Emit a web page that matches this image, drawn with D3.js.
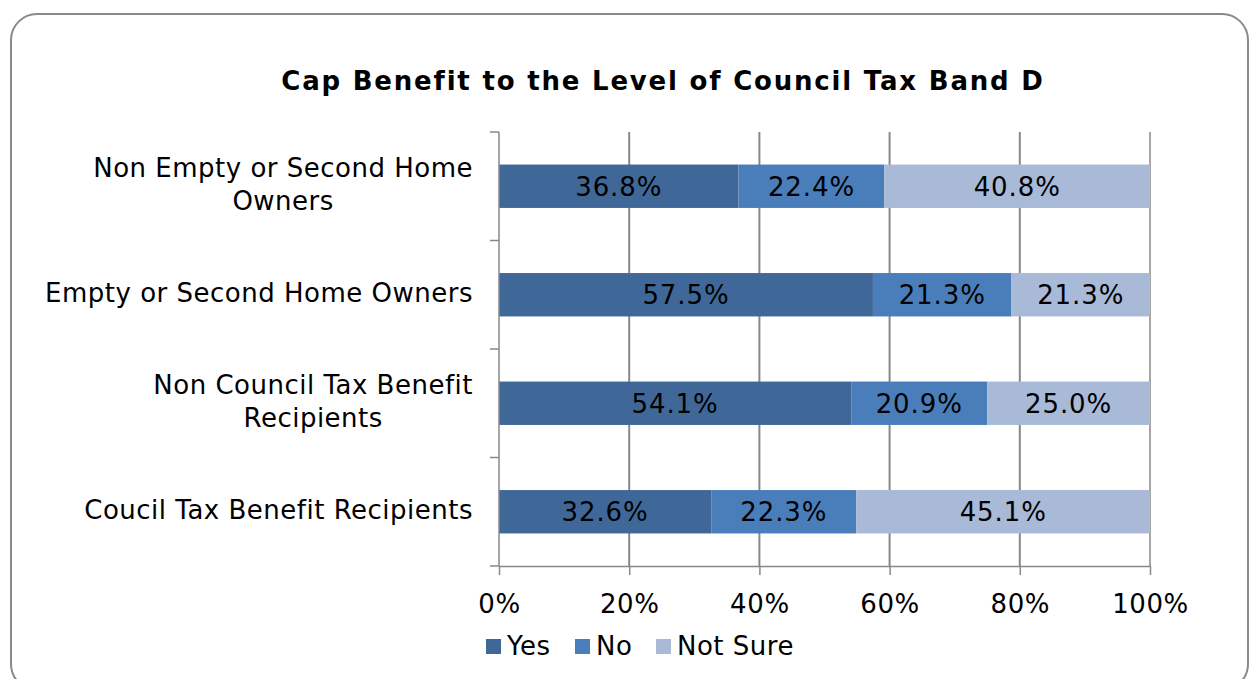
<!DOCTYPE html>
<html>
<head>
<meta charset="utf-8">
<script src="https://cdn.jsdelivr.net/npm/d3@7"></script>
<style>
    body { margin: 0; background: #fff; }
    text { font-family: "DejaVu Sans", Verdana, sans-serif; fill: #000; }
</style>
</head>
<body>
<div id="chart"></div>
<script>
const categories = [
    "Non Empty or Second Home Owners",
    "Empty or Second Home Owners",
    "Non Council Tax Benefit Recipients",
    "Coucil Tax Benefit Recipients"
];
const seriesNames = ["Yes", "No", "Not Sure"];
const yesValues = [36.8, 57.5, 54.1, 32.6];
const noValues = [22.4, 21.3, 20.9, 22.3];
const notSureValues = [40.8, 21.3, 25.0, 45.1];
const xTicks = [0, 0.2, 0.4, 0.6, 0.8, 1];

const colors = ["#3f6899", "#4a7ebb", "#a9b9d8"];

const width = 1250,
    height = 679;

const margin = { top: 132, right: 100, bottom: 113, left: 499 };
const plotW = 1150 - margin.left;
const plotH = 566 - margin.top;

const svg = d3.select("#chart").append("svg")
    .attr("width", width)
    .attr("height", height);

// chart border
svg.append("rect")
    .attr("x", 11).attr("y", 14)
    .attr("width", 1237).attr("height", 676)
    .attr("rx", 26).attr("ry", 26)
    .style("fill", "none")
    .style("stroke", "#8a8a8a")
    .style("stroke-width", 2);

svg.append("text")
    .attr("x", 663)
    .attr("y", 90)
    .style("text-anchor", "middle")
    .style("font-weight", "bold")
    .style("font-size", "26px")
    .style("letter-spacing", "1.8px")
    .text("Cap Benefit to the Level of Council Tax Band D");

const table = categories.map(function(c, i) {
    return { cat: c, "Yes": yesValues[i], "No": noValues[i], "Not Sure": notSureValues[i] };
});

const stack = d3.stack()
    .keys(seriesNames)
    .offset(d3.stackOffsetExpand);
const layers = stack(table);

const x = d3.scaleLinear().domain([0, 1]).range([0, plotW]);
const y = d3.scaleBand().domain(categories).range([0, plotH]).paddingInner(0.6).paddingOuter(0.3);

const g = svg.append("g")
    .attr("transform", "translate(" + margin.left + "," + margin.top + ")");

// gridlines
g.selectAll(".grid")
    .data(xTicks.slice(1))
    .enter().append("line")
    .attr("x1", d => x(d)).attr("x2", d => x(d))
    .attr("y1", 0).attr("y2", plotH)
    .style("stroke", "#888")
    .style("stroke-width", d => d === 1 ? 1.5 : 2);

// bars
const layer = g.selectAll(".layer")
    .data(layers)
    .enter().append("g")
    .attr("class", "layer")
    .style("fill", (d, i) => colors[i]);

layer.selectAll("rect")
    .data(d => d)
    .enter().append("rect")
    .attr("x", d => x(d[0]))
    .attr("y", d => y(d.data.cat))
    .attr("width", d => x(d[1]) - x(d[0]))
    .attr("height", y.bandwidth());

layer.selectAll("text")
    .data(function(d) { return d.map(p => ({ p: p, key: d.key })); })
    .enter().append("text")
    .attr("x", d => (x(d.p[0]) + x(d.p[1])) / 2)
    .attr("y", d => y(d.p.data.cat) + y.bandwidth() / 2)
    .attr("dy", "0.36em")
    .style("text-anchor", "middle")
    .style("font-size", "26px")
    .style("letter-spacing", "0.9px")
    .style("fill", "#000")
    .text(d => d.p.data[d.key].toFixed(1) + "%");

// bottom axis
const xAxis = g.append("g")
    .attr("transform", "translate(0," + plotH + ")")
    .call(d3.axisBottom(x).tickValues(xTicks).tickFormat(d3.format(".0%")).tickSize(9).tickSizeOuter(0));
xAxis.select(".domain").style("stroke", "#888").style("stroke-width", 1.5);
xAxis.selectAll(".tick line").style("stroke", "#888").style("stroke-width", 1.5);
xAxis.selectAll(".tick text")
    .attr("y", 27)
    .attr("dy", "0.75em")
    .style("font-size", "26px")
    .style("letter-spacing", "0.6px")
    .style("font-family", "DejaVu Sans, Verdana, sans-serif")
    .style("fill", "#000");

// left axis line with ticks on category boundaries
g.append("line")
    .attr("x1", 0).attr("x2", 0)
    .attr("y1", 0).attr("y2", plotH)
    .style("stroke", "#888").style("stroke-width", 1.5);
g.selectAll(".ytick")
    .data(d3.range(categories.length + 1))
    .enter().append("line")
    .attr("x1", -9).attr("x2", 0)
    .attr("y1", d => d * plotH / categories.length)
    .attr("y2", d => d * plotH / categories.length)
    .style("stroke", "#888").style("stroke-width", 1.5);

// category labels, wrapped like excel
const wrapWidth = 450;
const labelRight = -26;
const lineH = 33;
const labels = g.selectAll(".catlabel")
    .data(categories)
    .enter().append("text")
    .attr("class", "catlabel")
    .style("font-size", "26px")
    .style("letter-spacing", "0.5px")
    .style("text-anchor", "middle");

labels.each(function(d) {
    const t = d3.select(this);
    const words = d.split(" ");
    const lines = [];
    let line = [];
    const probe = t.append("tspan");
    words.forEach(function(w) {
        line.push(w);
        probe.text(line.join(" "));
        if (probe.node().getComputedTextLength() > wrapWidth && line.length > 1) {
            line.pop();
            lines.push(line.join(" "));
            line = [w];
        }
    });
    lines.push(line.join(" "));
    let maxW = 0;
    lines.forEach(function(l) {
        probe.text(l);
        maxW = Math.max(maxW, probe.node().getComputedTextLength());
    });
    probe.remove();
    const cx = labelRight - maxW / 2;
    const cy = y(d) + y.bandwidth() / 2 - 2;
    const y0 = cy - (lines.length - 1) * lineH / 2;
    lines.forEach(function(l, i) {
        t.append("tspan")
            .attr("x", cx)
            .attr("y", y0 + i * lineH)
            .attr("dy", "0.36em")
            .text(l);
    });
});

// legend
const legendX = [486, 575, 656];
const legend = svg.append("g").attr("class", "legend");
const item = legend.selectAll("g")
    .data(seriesNames)
    .enter().append("g")
    .attr("transform", (d, i) => "translate(" + legendX[i] + ",639)");
item.append("rect")
    .attr("width", 15).attr("height", 15)
    .style("fill", (d, i) => colors[i]);
item.append("text")
    .attr("x", 21)
    .attr("y", 16)
    .style("font-size", "26px")
    .style("letter-spacing", "0.5px")
    .text(d => d);
</script>
</body>
</html>
